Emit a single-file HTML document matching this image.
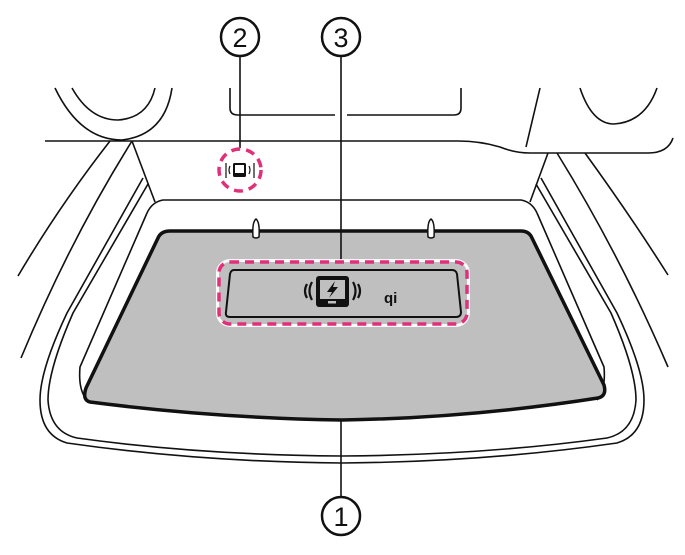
<!DOCTYPE html>
<html><head><meta charset="utf-8"><style>html,body{margin:0;padding:0;background:#fff}svg{display:block}</style></head>
<body>
<svg width="685" height="555" viewBox="0 0 685 555" xmlns="http://www.w3.org/2000/svg" font-family="Liberation Sans, sans-serif">
<g fill="none" stroke="#111" stroke-width="1.6">
 <!-- headrests -->
 <path d="M55 88 Q80 140 122 140 Q165 135 172 88"/>
 <path d="M72 88 Q90 120 118 120 Q148 118 155 88"/>
 <path d="M230 88 V108 Q230 115 238 115 H335"/>
 <path d="M347 115 H454 Q461 115 461 108 V88"/>
 <path d="M540 88 L526 147"/>
 <path d="M580 88 Q592 124 614 124 Q645 122 657 88"/>
 <!-- seat line -->
 <path d="M45 141 H458 Q480 141 500 147 Q515 153 530 153 H648 Q668 153 673 138"/>
 <!-- pillars -->
 <path d="M110 141 Q60 205 18 276"/>
 <path d="M132 141 Q70 240 21 358"/>
 <path d="M132 141 L155 202"/>
 <path d="M548 153 L530 202"/>
 <path d="M557 153 Q620 255 668 367"/>
 <path d="M585 153 Q630 215 668 275"/>
 <!-- trunk opening -->
 <path d="M147 213 Q152 202 163 200 H521 Q532 202 537 213"/>
 <!-- side walls (left) -->
 <path d="M143 178 L67 313 Q40 370 40 400 Q40 435 67 443 Q200 462 342 463 Q484 462 617 443 Q644 435 644 400 Q644 370 617 313 L541 178"/>
 <path d="M148 184 L73 313 Q48 370 48 400 Q50 432 77 438 Q200 455 342 456 Q484 455 607 438 Q634 432 636 400 Q636 370 611 313 L536 184"/>
 <path d="M147 213 L80 367 Q78 390 87 400"/>
 <path d="M537 213 L604 367 Q606 390 597 400"/>
</g>
<!-- floor -->
<path d="M170 231 H521 Q529 231 532 238 L604 385 Q607 396 598 398 Q470 418 342 420 Q214 418 90 402 Q82 400 86 388 L158 238 Q161 231 170 231 Z" fill="#bfbfbf" stroke="#111" stroke-width="3.5"/>
<!-- hooks -->
<g fill="#fff" stroke="#111" stroke-width="1.5">
 <path d="M253 237 Q252 222 256 219 Q260 222 259 237 Q256 239 253 237Z"/>
 <path d="M428 237 Q427 222 431 219 Q435 222 434 237 Q431 239 428 237Z"/>
</g>
<!-- leaders -->
<g stroke="#111" stroke-width="1.6">
 <line x1="240" y1="57" x2="240" y2="148"/>
 <line x1="341" y1="57" x2="341" y2="262"/>
 <line x1="341" y1="420" x2="341" y2="497"/>
</g>
<!-- pad area -->
<rect x="216" y="259" width="254" height="68" rx="14" fill="#fff" opacity="0.9"/>
<rect x="219" y="262" width="248" height="62" rx="11" fill="#bfbfbf" stroke="#e0307a" stroke-width="3.5" stroke-dasharray="9 6"/>
<path d="M234 270 H452 Q456 270 457 274 L461 312 Q461 317 456 317 H230 Q225 317 226 312 L230 274 Q231 270 234 270Z" fill="#bfbfbf" stroke="#111" stroke-width="2"/>
<!-- phone icon -->
<rect x="316" y="276" width="33" height="31" rx="3" fill="#111"/>
<rect x="320" y="280" width="25" height="19" fill="#bfbfbf"/>
<rect x="328" y="301" width="8" height="2.5" fill="#bfbfbf"/>
<path d="M335 281 L327 292 L332 292 L329 298 L338 287 L333 287 Z" fill="#111"/>
<g fill="none" stroke="#111" stroke-width="2.2">
 <path d="M307 284 Q303 291 307 298"/><path d="M312 282 Q307 291 312 300"/>
 <path d="M358 284 Q362 291 358 298"/><path d="M353 282 Q358 291 353 300"/>
</g>
<text x="384" y="303" font-size="15" font-weight="bold" fill="#111">qi</text>
<!-- circle 2 indicator -->
<circle cx="240" cy="170" r="21" fill="#fff" stroke="#e0307a" stroke-width="3.5" stroke-dasharray="9 6"/>
<rect x="233" y="163" width="13" height="14" rx="1.5" fill="#111"/>
<rect x="235" y="165" width="9" height="8" fill="#fff"/>
<g fill="none" stroke="#111" stroke-width="1.2"><path d="M230 166 Q228 170 230 174"/><path d="M249 166 Q251 170 249 174"/><path d="M226 163 V178"/><path d="M254 163 V178"/></g>
<!-- numbers -->
<g fill="#fff" stroke="#111" stroke-width="2.5">
 <circle cx="240" cy="37" r="19"/><circle cx="341" cy="37" r="19"/><circle cx="341" cy="516" r="19"/>
</g>
<g font-size="27" text-anchor="middle" fill="#111">
 <text x="240" y="47">2</text><text x="341" y="47">3</text><text x="341" y="526">1</text>
</g>
</svg>
</body></html>
